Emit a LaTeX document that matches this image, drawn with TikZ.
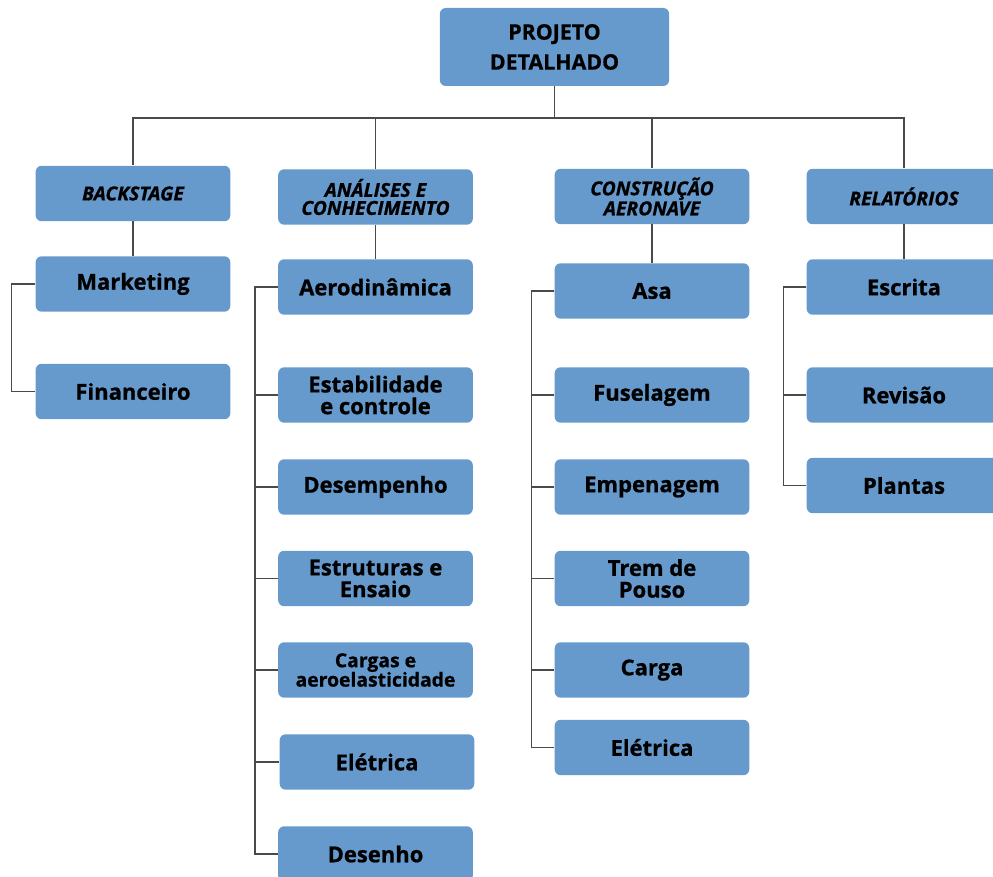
\documentclass[tikz,border=0pt]{standalone}
\usepackage{fontspec}
\setmainfont{Open Sans}[BoldFeatures={FakeBold=0.8}, BoldItalicFeatures={FakeBold=0.8}]
\usetikzlibrary{positioning}
\definecolor{boxblue}{HTML}{6699CC}
\definecolor{linegray}{HTML}{4A4A4A}

\begin{document}
\begin{tikzpicture}[x=0.75pt, y=-0.75pt,
  b/.style={fill=boxblue, rounded corners=4.5pt, align=center, inner sep=0pt,
    minimum width=146pt, minimum height=41.6pt, font=\fontsize{16.5}{16.3}\selectfont\bfseries},
  h/.style={b, font=\fontsize{14.5}{13.5}\selectfont\bfseries\itshape},
  l/.style={draw=linegray, line width=1.1pt}]
\useasboundingbox (0,0) rectangle (993,877);
% top
\node[b, minimum width=172pt, minimum height=58.5pt, font=\fontsize{16}{22.5}\selectfont\bfseries] (pd) at (554.5,47) {PROJETO\\ DETALHADO};
% level 2
\node[h] (bs) at (133,193.5) {BACKSTAGE};
\node[h] (ak) at (375.5,197) {ANÁLISES E\\ CONHECIMENTO};
\node[h] (ca) at (652,196.5) {CONSTRUÇÃO\\ AERONAVE};
\node[h] (rl) at (904,196.5) {RELATÓRIOS};
% backstage
\node[b] (mk) at (133,284) {Marketing};
\node[b] (fi) at (133,391.5) {Financeiro};
% analises
\node[b] (ae) at (375.5,287) {Aerodinâmica};
\node[b] (ec) at (375.5,395) {Estabilidade\\ e controle};
\node[b] (de) at (375.5,487) {Desempenho};
\node[b] (ee) at (375.5,578.5) {Estruturas e\\ Ensaio};
\node[b, font=\fontsize{14.5}{14.5}\selectfont\bfseries] (cg) at (375.5,670) {Cargas e\\ aeroelasticidade};
\node[b] (el) at (377,762) {Elétrica};
\node[b] (ds) at (375.5,854) {Desenho};
% construcao
\node[b] (as) at (652,291) {Asa};
\node[b] (fu) at (652,395) {Fuselagem};
\node[b] (em) at (652,487) {Empenagem};
\node[b] (tp) at (652,578.5) {Trem de\\ Pouso};
\node[b] (cr) at (652,670) {Carga};
\node[b] (et) at (652,747.5) {Elétrica};
% relatorios
\node[b] (es) at (904,287) {Escrita};
\node[b] (rv) at (904,395) {Revisão};
\node[b] (pl) at (904,485.5) {Plantas};
% connectors
\coordinate (bus) at (556,118);
\foreach \x in {bs,ak,ca,rl} {\draw[l] (pd.south) |- (bus -| \x.north) -- (\x.north);}
\foreach \x/\y in {bs/mk,ak/ae,ca/as,rl/es} {\draw[l] (\x) -- (\y);}
\draw[l] (mk.west) -- ++(-24,0) |- (fi.west);
\foreach \x in {ec,de,ee,cg,el,ds} {\draw[l] (ae.west) -- ++(-23,0) |- (\x.west);}
\foreach \x in {fu,em,tp,cr,et} {\draw[l] (as.west) -- ++(-23,0) |- (\x.west);}
\foreach \x in {rv,pl} {\draw[l] (es.west) -- ++(-23,0) |- (\x.west);}
\end{tikzpicture}
\end{document}
